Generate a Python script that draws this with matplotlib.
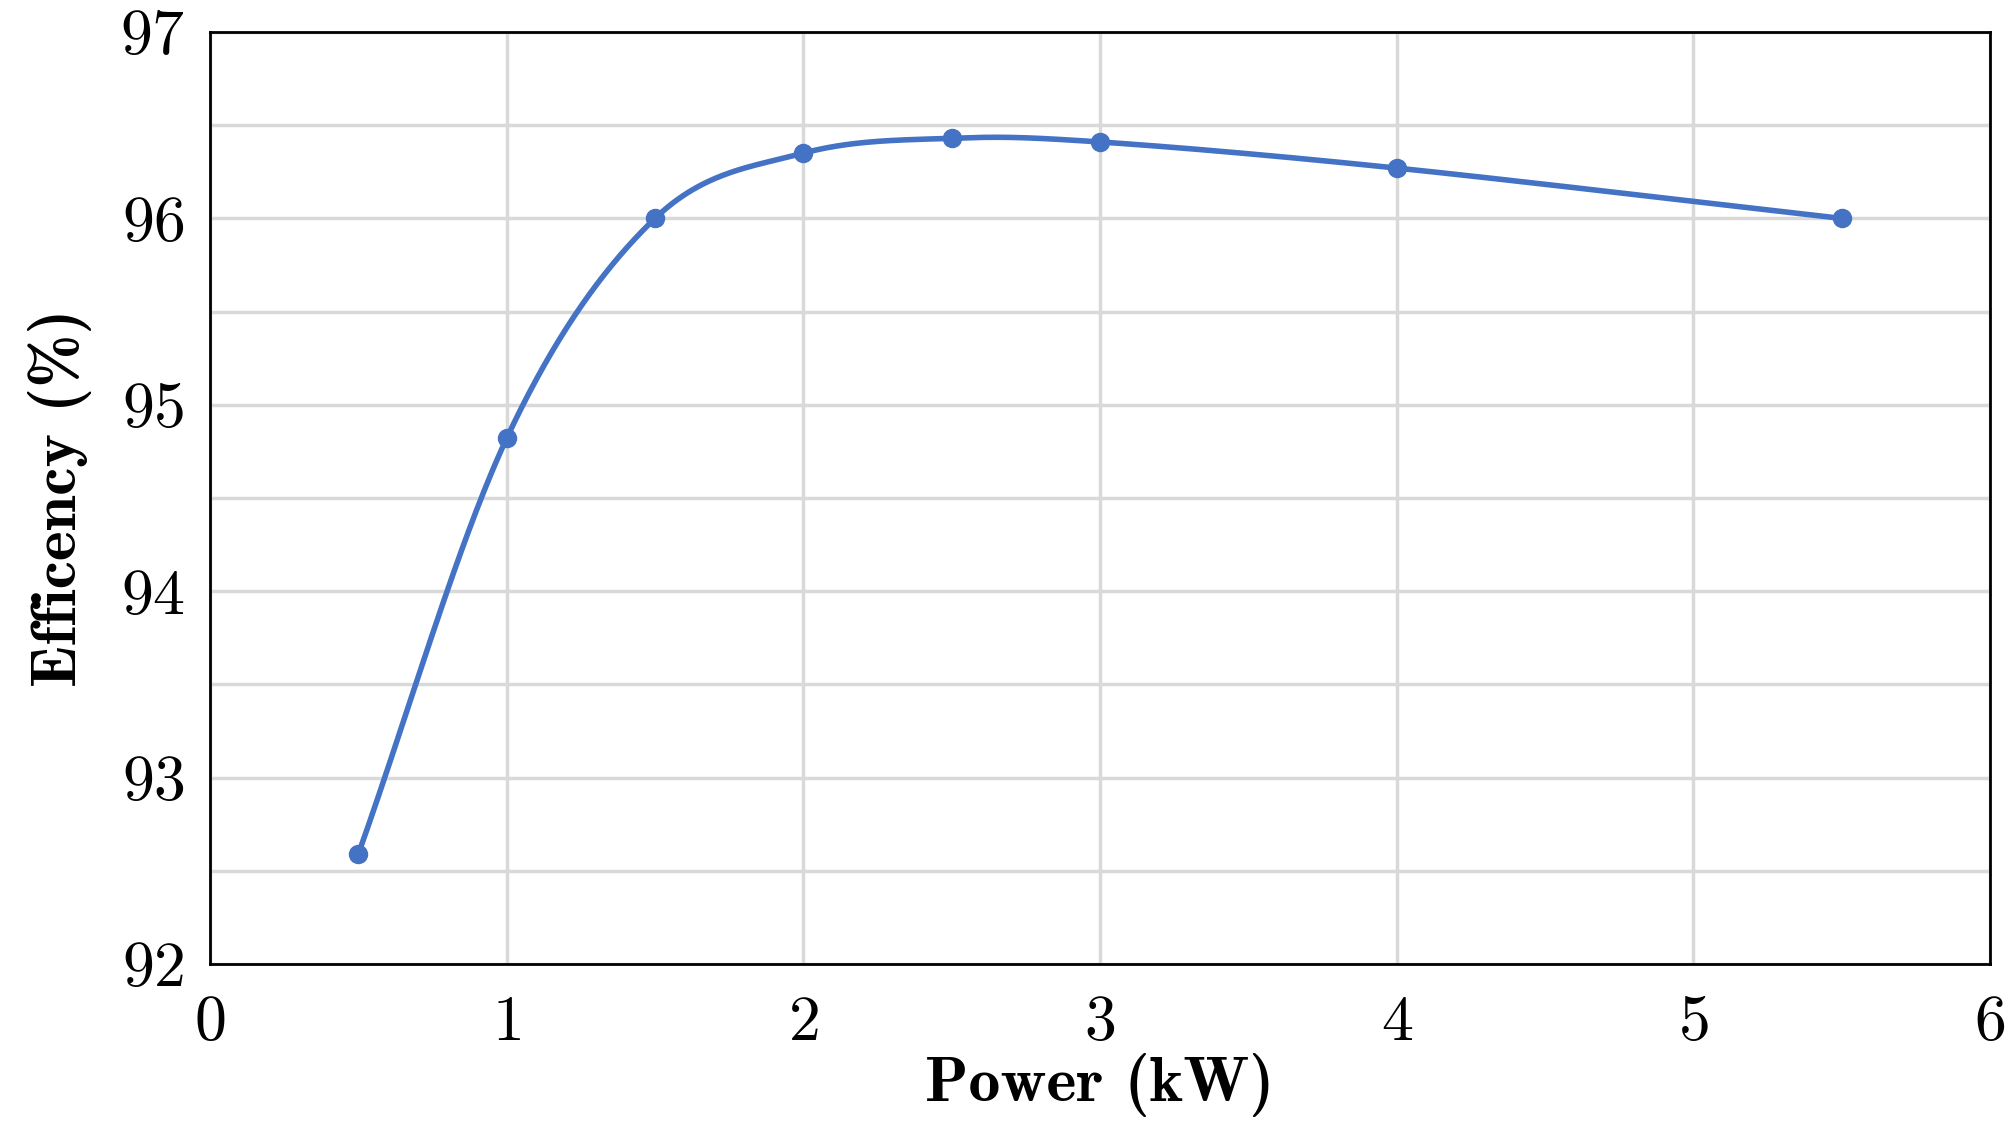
import numpy as np
import matplotlib.pyplot as plt

# Data
power_kw = [0.5, 1.0, 1.5, 2.0, 2.5, 3.0, 4.0, 5.5]
efficiency = [92.59, 94.82, 96.0, 96.35, 96.43, 96.41, 96.27, 96.0]


def catmull_rom(x, y, n=60):
    # smooth curve through the points (like spreadsheet "smoothed line")
    px = np.concatenate([[2 * x[0] - x[1]], x, [2 * x[-1] - x[-2]]])
    py = np.concatenate([[2 * y[0] - y[1]], y, [2 * y[-1] - y[-2]]])
    xs, ys = [], []
    t = np.linspace(0, 1, n)
    for i in range(1, len(px) - 2):
        for p, out in ((px, xs), (py, ys)):
            p0, p1, p2, p3 = p[i - 1], p[i], p[i + 1], p[i + 2]
            out.extend(0.5 * (2 * p1 + (-p0 + p2) * t
                              + (2 * p0 - 5 * p1 + 4 * p2 - p3) * t ** 2
                              + (-p0 + 3 * p1 - 3 * p2 + p3) * t ** 3))
    return np.array(xs), np.array(ys)


plt.rcParams['font.family'] = 'cmr10'
plt.rcParams['axes.formatter.use_mathtext'] = True

fig = plt.figure(figsize=(20.16, 11.32), dpi=100)
ax = fig.add_axes([210 / 2016, 1 - 964 / 1132, 1780 / 2016, 932 / 1132])

sx, sy = catmull_rom(np.array(power_kw), np.array(efficiency))
ax.plot(sx, sy, color='#4472c4', linewidth=4, zorder=3)
ax.plot(power_kw, efficiency, 'o', color='#4472c4', markersize=13, zorder=4)

ax.set_xlim(0, 6)
ax.set_ylim(92, 97)
ax.set_xticks(range(0, 7))
ax.set_yticks(range(92, 98))
ax.set_yticks(np.arange(92.5, 97, 1), minor=True)
ax.grid(True, which='both', color='#d9d9d9', linewidth=2.5, zorder=0)
ax.set_axisbelow(True)
ax.tick_params(which='both', length=0, labelsize=46)
ax.tick_params(axis='y', pad=18)
ax.tick_params(axis='x', pad=22)
for s in ax.spines.values():
    s.set_linewidth(2)

ax.set_xlabel('Power (kW)', fontfamily='cmb10', fontsize=46, labelpad=0)
ax.set_ylabel('Efficency (%)', fontfamily='cmb10', fontsize=46, labelpad=20)

plt.savefig('out.png', dpi=100)
